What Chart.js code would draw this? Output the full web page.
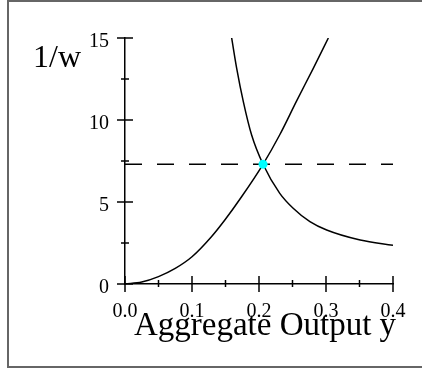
<!DOCTYPE html>
<html>
<head>
<meta charset="utf-8">
<script src="https://cdn.jsdelivr.net/npm/chart.js@4/dist/chart.umd.min.js"></script>
<style>
  html, body { margin: 0; padding: 0; background: #fff; }
  #wrap { position: relative; width: 422px; height: 370px; overflow: hidden; }
  #frame { position: absolute; left: 7px; top: 0; width: 430px; height: 364px; border: 2px solid #666; }
  canvas { position: absolute; left: 0; top: 0; }
</style>
</head>
<body>
<div id="wrap">
  <div id="frame"></div>
  <canvas id="grafico" width="422" height="370"></canvas>
</div>
<script>
// rising curve
const upX = [0, 0.025, 0.05, 0.075, 0.1, 0.129, 0.149, 0.174, 0.206, 0.231, 0.256, 0.281, 0.3035];
const upY = [0, 0.12, 0.45, 0.95, 1.66, 2.88, 3.9, 5.32, 7.3, 9.1, 11.15, 13.15, 15.0];
// falling curve
const downX = [0.1592, 0.1667, 0.1766, 0.189, 0.206, 0.231, 0.251, 0.276, 0.301, 0.351, 0.4];
const downY = [15.0, 13.15, 11.12, 9.08, 7.3, 5.53, 4.62, 3.8, 3.29, 2.68, 2.36];
// equilibrium
const eqX = [0.206];
const eqY = [7.3];
const levelX = [0, 0.4];
const levelY = [7.3, 7.3];

const xMajor = [0, 0.1, 0.2, 0.3, 0.4];
const xMinor = [0.05, 0.15, 0.25, 0.35];
const yMajor = [0, 5, 10, 15];
const yMinor = [2.5, 7.5, 12.5];
const xTitle = "Aggregate Output y";
const yTitle = "1/w";

const pts = (xs, ys) => xs.map((x, i) => ({ x: x, y: ys[i] }));
const serif = '"Liberation Serif", "Times New Roman", serif';

const crossTicks = {
  id: "crossTicks",
  afterDraw(chart) {
    const ctx = chart.ctx;
    const xs = chart.scales.x, ys = chart.scales.y;
    const x0 = xs.getPixelForValue(0), y0 = ys.getPixelForValue(0);
    ctx.save();
    ctx.strokeStyle = "#000";
    ctx.lineWidth = 1.5;
    const seg = (a, b, c, d) => { ctx.beginPath(); ctx.moveTo(a, b); ctx.lineTo(c, d); ctx.stroke(); };
    yMajor.forEach(v => { const p = ys.getPixelForValue(v); seg(x0 - 8, p, x0 + 8, p); });
    yMinor.forEach(v => { const p = ys.getPixelForValue(v); seg(x0 - 4, p, x0 + 4, p); });
    xMajor.forEach(v => { const p = xs.getPixelForValue(v); seg(p, y0 - 8, p, y0 + 8); });
    xMinor.forEach(v => { const p = xs.getPixelForValue(v); seg(p, y0 - 4, p, y0 + 3); });
    ctx.fillStyle = "#000";
    ctx.textBaseline = "alphabetic";
    ctx.textAlign = "center";
    ctx.font = "33px " + serif;
    ctx.fillText(xTitle, 265, 335);
    ctx.font = "32px " + serif;
    ctx.fillText(yTitle, 57, 67);
    ctx.restore();
  }
};

const ctx = document.getElementById("grafico").getContext("2d");
new Chart(ctx, {
  type: "line",
  data: {
    datasets: [
      {
        data: pts(eqX, eqY),
        showLine: false,
        pointRadius: 4.5,
        pointBackgroundColor: "#00ffff",
        pointBorderWidth: 0,
      },
      {
        data: pts(upX, upY),
        borderColor: "#000",
        borderWidth: 1.5,
        pointRadius: 0,
        cubicInterpolationMode: "monotone",
      },
      {
        data: pts(downX, downY),
        borderColor: "#000",
        borderWidth: 1.5,
        pointRadius: 0,
        cubicInterpolationMode: "monotone",
      },
      {
        data: pts(levelX, levelY),
        borderColor: "#000",
        borderWidth: 1.5,
        borderDash: [17, 15],
        pointRadius: 0,
      },
    ],
  },
  options: {
    responsive: false,
    animation: false,
    layout: { padding: { left: 65, right: 29, top: 38, bottom: 26 } },
    plugins: { legend: { display: false }, tooltip: { enabled: false } },
    scales: {
      x: {
        type: "linear",
        min: 0,
        max: 0.4,
        grid: { display: false, drawTicks: false },
        border: { display: true, color: "#000", width: 1.5 },
        ticks: {
          stepSize: 0.1,
          padding: 16,
          color: "#000",
          font: { family: serif, size: 20 },
          callback: (v) => v.toFixed(1),
        },
        afterFit: (s) => { s.height = 60; },
      },
      y: {
        min: 0,
        max: 15,
        grid: { display: false, drawTicks: false },
        border: { display: true, color: "#000", width: 1.5 },
        ticks: {
          stepSize: 5,
          padding: 16,
          labelOffset: 4,
          color: "#000",
          font: { family: serif, size: 20 },
        },
        afterFit: (s) => { s.width = 60; },
      },
    },
  },
  plugins: [crossTicks],
});
</script>
</body>
</html>
